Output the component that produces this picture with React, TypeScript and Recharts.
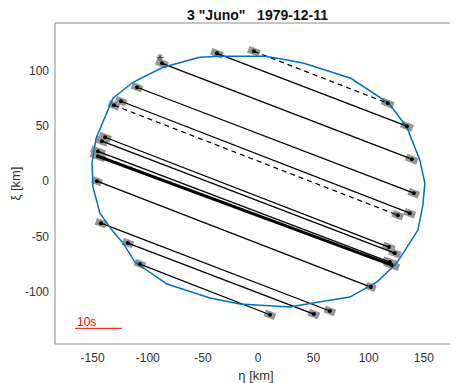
import React from "react";
import { ComposedChart, XAxis, YAxis, Scatter, ReferenceLine } from "recharts";

// asteroid profile (km), clockwise from the top
const profileEta = [
  -52.8, -36.5, 6.1, 22.4, 41.4, 83.9, 118.3, 134.6, 146.4, 150.9, 149.1, 144.6, 125.5, 107.4, 83.0,
  49.5, 28.7, -16.6, -43.7, -82.6, -111.6, -122.4, -132.4, -143.3, -149.6, -150.5, -146.8, -131.5,
  -113.4, -86.2,
];
const profileXi = [
  112.2, 113.1, 113.1, 110.4, 106.8, 93.2, 70.6, 48.9, 19.0, -1.8, -21.7, -44.3, -74.2, -91.4, -105.0,
  -110.4, -114.0, -111.3, -105.9, -93.2, -73.3, -56.1, -44.3, -28.9, -5.4, 16.3, 38.9, 75.1, 89.6,
  103.2,
];

// chords: disappearance / reappearance points
const chordEtaStart = [-37.4, -3.9, -87.1, -109.7, -124.2, -130.6, -138.7, -141.5, -145.1, -145.1, -146.0, -142.4, -118.0, -107.1];
const chordXiStart = [115.8, 117.6, 106.8, 85.1, 72.4, 68.8, 39.8, 36.2, 27.1, 22.6, 0.0, -38.0, -56.1, -75.1];
const chordEtaEnd = [134.6, 117.2, 139.1, 140.9, 137.3, 126.4, 118.3, 123.7, 119.2, 120.9, 102.0, 64.9, 50.4, 10.6];
const chordXiEnd = [49.8, 70.6, 19.9, -10.9, -29.0, -30.8, -59.7, -65.2, -73.3, -76.0, -95.9, -117.6, -120.4, -121.0];
const chordStyle = ["solid", "dashed", "solid", "solid", "solid", "dashed", "solid", "solid", "solid", "thick", "solid", "solid", "solid", "solid"];
const chordError = [5.5, 5.5, 5.5, 5, 5, 5, 5.5, 5.5, 6.5, 7, 4.5, 5, 5, 5];

const starEta = [-88.9];
const starXi = [112.2];

const scaleBarEta = [-165.9, -123.3];
const scaleBarXi = [-133.3, -133.3];
const scaleBarText = "10s";

const xTicks = [-150, -100, -50, 0, 50, 100, 150];
const yTicks = [-100, -50, 0, 50, 100];
const xDomain = [-184, 180];
const yDomain = [-147.5, 143.3];

const title = '3 "Juno"   1979-12-11';

const AXIS = "#8c8c8c";
const TEXT = "#333333";

const profileData = [...profileEta, profileEta[0]].map((x, i) => ({
  x,
  y: i < profileXi.length ? profileXi[i] : profileXi[0],
}));

const chords = chordEtaStart.map((x1, i) => ({
  a: { x: x1, y: chordXiStart[i] },
  b: { x: chordEtaEnd[i], y: chordXiEnd[i] },
  style: chordStyle[i],
  err: chordError[i],
}));

const endPoints = chords.flatMap((c) => [c.a, c.b]);

// grey timing-error bars laid along each chord
const errorBars = chords.flatMap((c) => {
  const dx = c.b.x - c.a.x;
  const dy = c.b.y - c.a.y;
  const len = Math.sqrt(dx * dx + dy * dy);
  const ux = (dx / len) * c.err;
  const uy = (dy / len) * c.err;
  return [c.a, c.b].map((p) => [
    { x: p.x - ux, y: p.y - uy },
    { x: p.x + ux, y: p.y + uy },
  ]);
});

const starData = starEta.map((x, i) => ({ x, y: starXi[i] }));

const Dot = (props: any) => <circle cx={props.cx} cy={props.cy} r={2} fill="#000" />;
const Nothing = () => <g />;
const Asterisk = (props: any) => {
  const { cx, cy } = props;
  const r = 3.5;
  return (
    <g stroke="#444" strokeWidth={1}>
      <line x1={cx - r} y1={cy} x2={cx + r} y2={cy} />
      <line x1={cx} y1={cy - r} x2={cx} y2={cy + r} />
      <line x1={cx - r * 0.7} y1={cy - r * 0.7} x2={cx + r * 0.7} y2={cy + r * 0.7} />
      <line x1={cx - r * 0.7} y1={cy + r * 0.7} x2={cx + r * 0.7} y2={cy - r * 0.7} />
    </g>
  );
};

export default function App() {
  return (
    <div
      style={{
        position: "relative",
        width: 450,
        height: 375,
        fontFamily: "'Liberation Sans', Arial, sans-serif",
      }}
    >
      <div
        style={{
          position: "absolute",
          left: 149.5,
          top: 0,
          width: 200,
          textAlign: "center",
          fontSize: 14,
          lineHeight: "14px",
          fontWeight: "bold",
          whiteSpace: "pre",
          color: "#111",
        }}
      >
        {title}
      </div>
      <ComposedChart width={450} height={375} margin={{ top: 15, right: 1, bottom: 0, left: 0 }}>
        <XAxis
          xAxisId="b"
          type="number"
          dataKey="x"
          domain={xDomain}
          ticks={xTicks}
          allowDataOverflow
          height={39}
          tickLine={false}
          tickSize={6}
          tickMargin={3}
          stroke={AXIS}
          tick={{ fontSize: 12, fill: TEXT }}
          label={{ value: "η [km]", position: "insideBottom", offset: 3, fontSize: 13, fill: TEXT }}
        />
        <XAxis xAxisId="bm" type="number" dataKey="x" domain={xDomain} ticks={xTicks} allowDataOverflow mirror axisLine={false} tick={false} tickSize={4} stroke={AXIS} />
        <XAxis xAxisId="t" orientation="top" type="number" dataKey="x" domain={xDomain} ticks={xTicks} allowDataOverflow mirror tick={false} tickSize={4} stroke={AXIS} />
        <YAxis
          yAxisId="l"
          type="number"
          dataKey="y"
          domain={yDomain}
          ticks={yTicks}
          allowDataOverflow
          width={47}
          tickLine={false}
          tickSize={4}
          tickMargin={2}
          stroke={AXIS}
          tick={{ fontSize: 12, fill: TEXT }}
          label={{ value: "ξ [km]", angle: -90, position: "insideLeft", offset: 7, fontSize: 13, fill: TEXT, style: { textAnchor: "middle" } }}
        />
        <YAxis yAxisId="lm" type="number" dataKey="y" domain={yDomain} ticks={yTicks} allowDataOverflow mirror axisLine={false} tick={false} tickSize={4} stroke={AXIS} />
        <YAxis yAxisId="r" orientation="right" type="number" dataKey="y" domain={yDomain} ticks={yTicks} allowDataOverflow mirror tick={false} tickSize={4} stroke={AXIS} />

        {errorBars.map((seg, i) => (
          <ReferenceLine key={"e" + i} xAxisId="b" yAxisId="l" segment={seg} stroke="#969696" strokeWidth={7} />
        ))}

        <Scatter
          xAxisId="b"
          yAxisId="l"
          data={profileData}
          line={{ stroke: "#0072BD", strokeWidth: 1.5 }}
          shape={Nothing}
          isAnimationActive={false}
        />

        {chords.map((c, i) => (
          <ReferenceLine
            key={"c" + i}
            xAxisId="b"
            yAxisId="l"
            segment={[c.a, c.b]}
            stroke="#000"
            strokeWidth={c.style === "thick" ? 3 : 1.3}
            strokeDasharray={c.style === "dashed" ? "5 4" : undefined}
          />
        ))}

        <Scatter xAxisId="b" yAxisId="l" data={endPoints} shape={Dot} isAnimationActive={false} />
        <Scatter xAxisId="b" yAxisId="l" data={starData} shape={Asterisk} isAnimationActive={false} />

        <ReferenceLine
          xAxisId="b"
          yAxisId="l"
          segment={[
            { x: scaleBarEta[0], y: scaleBarXi[0] },
            { x: scaleBarEta[1], y: scaleBarXi[1] },
          ]}
          stroke="#ff0000"
          strokeWidth={1}
          label={{ value: scaleBarText, position: "insideBottomLeft", offset: 2, fill: "#ff0000", fontSize: 12 }}
        />
      </ComposedChart>
    </div>
  );
}
